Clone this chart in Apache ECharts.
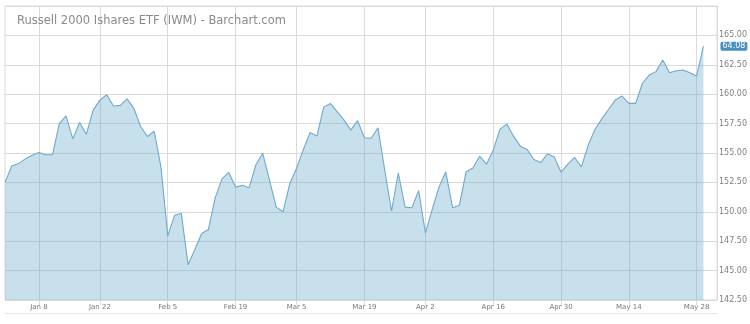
<!DOCTYPE html>
<html>
<head>
<meta charset="utf-8">
<script src="https://cdn.jsdelivr.net/npm/echarts@6/dist/echarts.min.js"></script>
<style>
html,body{margin:0;padding:0;background:#fff;}
#chart{width:750px;height:324px;}
</style>
</head>
<body>
<div id="chart"></div>
<script>
// ---- data ----
const titleText = 'Russell 2000 Ishares ETF (IWM) - Barchart.com';
const startDate = '2017-12-29';
const holidays = ['2018-01-01','2018-01-15','2018-02-19','2018-03-30','2018-05-28'];
const tickLabels = ['Jan 8','Jan 22','Feb 5','Feb 19','Mar 5','Mar 19','Apr 2','Apr 16','Apr 30','May 14','May 28'];
const tickYear = 2018;
const closes = [
  152.5, 153.9, 154.1, 154.5, 154.8, 155.05, 154.85, 154.85, 157.5, 158.15,
  156.2, 157.6, 156.6, 158.65, 159.5, 159.95, 159.0, 159.05, 159.6, 158.8,
  157.25, 156.4, 156.85, 153.8, 147.95, 149.7, 149.85, 145.5, 146.8, 148.15,
  148.5, 151.2, 152.8, 153.35, 152.1, 152.25, 152.05, 154.0, 154.98, 152.7,
  150.4, 150.0, 152.4, 153.7, 155.3, 156.75, 156.45, 158.9, 159.2, 158.5,
  157.8, 156.95, 157.75, 156.3, 156.25, 157.15, 153.55, 150.07, 153.3, 150.4,
  150.35, 151.8, 148.2, 150.2, 152.1, 153.4, 150.35, 150.55, 153.4, 153.73,
  154.73, 154.05, 155.24, 157.03, 157.46, 156.43, 155.58, 155.3, 154.45, 154.19,
  154.93, 154.67, 153.37, 154.05, 154.62, 153.82, 155.67, 157.0, 157.9, 158.7,
  159.5, 159.84, 159.22, 159.22, 160.93, 161.63, 161.92, 162.91, 161.83, 162.0,
  162.06, 161.83, 161.55, 164.08
];
const extraSlots = 2; // empty trading days after the last close
const yMin = 142.5, yMax = 167.5, yStep = 2.5;

// ---- trading-day categories ----
function iso(d){ return d.toISOString().slice(0,10); }
const categories = [];
(function(){
  const d = new Date(startDate + 'T00:00:00Z');
  const total = closes.length + extraSlots;
  while (categories.length < total) {
    const wd = d.getUTCDay();
    const s = iso(d);
    if (wd !== 0 && wd !== 6 && holidays.indexOf(s) < 0) categories.push(s);
    d.setUTCDate(d.getUTCDate() + 1);
  }
})();
const monthNames = ['Jan','Feb','Mar','Apr','May','Jun','Jul','Aug','Sep','Oct','Nov','Dec'];
const tickIndex = {};
tickLabels.forEach(function(lbl){
  const parts = lbl.split(' ');
  const target = iso(new Date(Date.UTC(tickYear, monthNames.indexOf(parts[0]), +parts[1])));
  for (let i = 0; i < categories.length; i++) {
    if (categories[i] >= target) { tickIndex[i] = lbl; break; }
  }
});
function isTick(idx){ return tickIndex.hasOwnProperty(idx); }

const font = '"DejaVu Sans", Verdana, sans-serif';
const gridColor = '#dadada';

const chart = echarts.init(document.getElementById('chart'), null, {renderer:'canvas'});
chart.setOption({
  animation: false,
  backgroundColor: '#fff',
  title: {
    text: titleText,
    left: 12, top: 10,
    textStyle: {color:'#8a8a8a', fontSize:11.5, fontWeight:'normal', fontFamily:font}
  },
  grid: {left:5, right:32, top:6, bottom:24, show:true, borderColor:gridColor, borderWidth:1, containLabel:false},
  xAxis: [{
    type:'category',
    data: categories,
    boundaryGap:false,
    axisLine:{show:false},
    axisTick:{show:true, interval:isTick, length:5, lineStyle:{color:gridColor}},
    splitLine:{show:true, interval:isTick, lineStyle:{color:gridColor, width:1}},
    axisLabel:{
      show:true, interval:isTick, margin:4,
      color:'#777', fontSize:7, fontFamily:font,
      formatter:function(v, idx){ return tickIndex[idx] || ''; }
    }
  },{
    type:'category',
    data: categories,
    boundaryGap:false,
    position:'bottom',
    offset:13,
    axisLine:{show:true, lineStyle:{color:'#e1eaf1', width:1}},
    axisTick:{show:false},
    axisLabel:{show:false},
    splitLine:{show:false}
  }],
  yAxis: {
    type:'value',
    position:'right',
    min:yMin, max:yMax, interval:yStep,
    axisLine:{show:true, lineStyle:{color:gridColor}},
    axisTick:{show:false},
    splitLine:{show:true, lineStyle:{color:gridColor, width:1}},
    axisLabel:{
      margin:2, color:'#808080', fontSize:8, fontFamily:font,
      showMaxLabel:false,
      formatter:function(v){ return v.toFixed(2); }
    }
  },
  series: [{
    type:'line',
    data: closes,
    symbol:'none',
    lineStyle:{color:'#6ea9cf', width:1.1},
    areaStyle:{color:'rgba(103,166,203,0.36)', opacity:1, origin:'start'},
    endLabel:{
      show:true,
      distance:0,
      offset:[17,0],
      formatter:function(p){ return p.value.toFixed(2).slice(1); },
      color:'#fff', fontSize:8, fontFamily:font,
      backgroundColor:'#4a8fc1', borderRadius:2, padding:[1,2,0,2]
    }
  }]
});
</script>
</body>
</html>
